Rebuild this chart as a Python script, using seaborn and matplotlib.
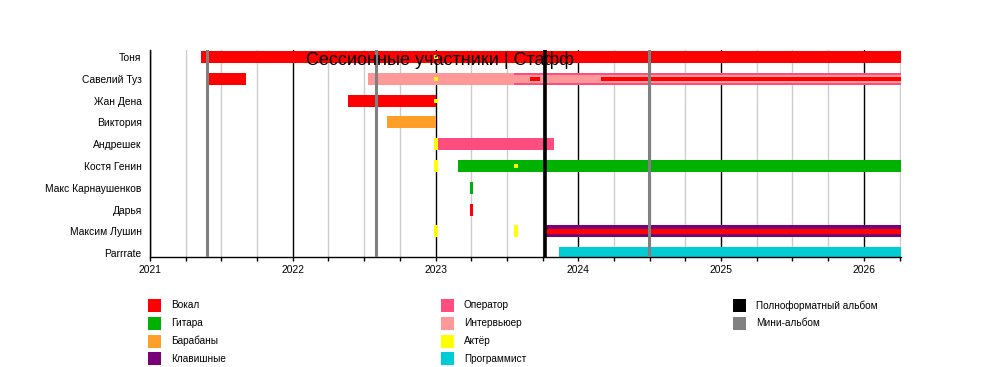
import matplotlib
matplotlib.use("Agg")
import matplotlib.pyplot as plt
from matplotlib.patches import Rectangle
import seaborn as sns
import numpy as np

# ---------------- data ----------------
title = "Сессионные участники | Стафф"
members = ["Тоня", "Савелий Туз", "Жан Дена", "Виктория", "Андрешек",
           "Костя Генин", "Макс Карнаушенков", "Дарья", "Максим Лушин", "Parrrate"]

roles = ["Вокал", "Гитара", "Барабаны", "Клавишные",
         "Оператор", "Интервьюер", "Актёр", "Программист"]
role_colors = ["#FF0000", "#00B200", "#FF9F28", "#7A0078",
               "#FF4D80", "#FF9999", "#FFFF00", "#00CCD4"]

END = 2026.26
years = [2021, 2022, 2023, 2024, 2025, 2026]

# full-height bars
main_member = ["Тоня", "Савелий Туз", "Савелий Туз", "Савелий Туз", "Жан Дена",
               "Виктория", "Андрешек", "Андрешек", "Костя Генин", "Костя Генин",
               "Макс Карнаушенков", "Дарья", "Максим Лушин", "Максим Лушин",
               "Максим Лушин", "Parrrate"]
main_role = ["Вокал", "Вокал", "Интервьюер", "Оператор", "Вокал",
             "Барабаны", "Актёр", "Оператор", "Актёр", "Гитара",
             "Гитара", "Вокал", "Актёр", "Актёр",
             "Клавишные", "Программист"]
main_start = [2021.36, 2021.414, 2022.528, 2023.552, 2022.388,
              2022.661, 2022.99, 2023.015, 2022.99, 2023.16,
              2023.243, 2023.243, 2022.99, 2023.55,
              2023.776, 2023.867]
main_end = [END, 2021.673, 2023.552, END, 2023.0,
            2023.0, 2023.02, 2023.83, 2023.02, END,
            2023.264, 2023.264, 2023.02, 2023.58,
            END, END]

# medium inner bars
mid_member = ["Савелий Туз"]
mid_role = ["Интервьюер"]
mid_start = [2023.552]
mid_end = [END]

# thin inner bars
thin_member = ["Савелий Туз", "Савелий Туз", "Максим Лушин"]
thin_role = ["Вокал", "Вокал", "Вокал"]
thin_start = [2023.664, 2024.161, 2023.776]
thin_end = [2023.734, END, END]

# small markers (actor)
dot_member = ["Тоня", "Савелий Туз", "Жан Дена", "Костя Генин"]
dot_role = ["Актёр", "Актёр", "Актёр", "Актёр"]
dot_start = [2022.99, 2022.99, 2022.99, 2023.55]
dot_end = [2023.02, 2023.02, 2023.02, 2023.58]

album_types = ["Полноформатный альбом", "Мини-альбом"]
album_colors = ["#000000", "#808080"]
album_type = ["Мини-альбом", "Мини-альбом", "Полноформатный альбом", "Мини-альбом"]
album_date = [2021.396, 2022.581, 2023.765, 2024.496]

# ---------------- style ----------------
sns.set_theme(style="white")
plt.rcParams['font.family'] = ['Liberation Sans', 'DejaVu Sans']

W, H = 1000, 367
fig = plt.figure(figsize=(W / 100, H / 100), dpi=100)
ax = fig.add_axes([150 / W, 1 - 257 / H, 751 / W, 207 / H])

color_of = dict(zip(roles, role_colors))
row_of = {m: i for i, m in enumerate(members)}


def draw(mem, rol, st, en, h, z):
    ax.barh([row_of[m] for m in mem],
            np.array(en) - np.array(st), left=st, height=h,
            color=[color_of[r] for r in rol], linewidth=0, zorder=z)


draw(main_member, main_role, main_start, main_end, 0.55, 2)
draw(mid_member, mid_role, mid_start, mid_end, 0.34, 3)
draw(thin_member, thin_role, thin_start, thin_end, 0.2, 3.5)
draw(dot_member, dot_role, dot_start, dot_end, 0.18, 3.6)

album_color_of = dict(zip(album_types, album_colors))
album_lw = {"Полноформатный альбом": 2.6, "Мини-альбом": 2.2}
for t, d in zip(album_type, album_date):
    ax.axvline(d, color=album_color_of[t], lw=album_lw[t], zorder=5)

ax.set_xticks(years)
ax.set_xticklabels([str(y) for y in years])
quarters = [y + q / 4 for y in range(2021, 2027) for q in range(1, 4)]
quarters = [q for q in quarters if q <= END]
ax.set_xticks(quarters, minor=True)
ax.set_yticks(range(len(members)))
ax.set_yticklabels(members)
ax.set_xlim(2021, END)
ax.set_ylim(9.17, -0.32)

ax.grid(which='major', axis='x', color='black', lw=1.0)
ax.grid(which='minor', axis='x', color='#CCCCCC', lw=1.0)
ax.grid(which='major', axis='y', visible=False)
ax.set_axisbelow(True)

for s in ["top", "right"]:
    ax.spines[s].set_visible(False)
for s in ["left", "bottom"]:
    ax.spines[s].set_color("black")
    ax.spines[s].set_linewidth(1.0)

ax.tick_params(axis='x', which='both', direction='out', length=3, width=1,
               color='black', labelsize=7.4, pad=3, bottom=True)
ax.tick_params(axis='y', length=0, labelsize=7.4, pad=6)
for lab in ax.get_xticklabels() + ax.get_yticklabels():
    lab.set_color("black")

fig.text(439.5 / W, 1 - 60 / H, title, ha='center', va='center',
         fontsize=13, color='black', zorder=10)

# ---------------- legend ----------------
col_x = [148, 441, 733]
row_y = [299, 317, 334.5, 352]
columns = [roles[:4], roles[4:], album_types]
col_colors = [role_colors[:4], role_colors[4:], album_colors]
sq = 13
for cx, labs, cols in zip(col_x, columns, col_colors):
    for ry, lab, c in zip(row_y, labs, cols):
        fig.add_artist(Rectangle((cx / W, 1 - (ry + sq) / H), sq / W, sq / H,
                                 transform=fig.transFigure, color=c, lw=0))
        fig.text((cx + 23) / W, 1 - (ry + sq / 2) / H, lab, ha='left',
                 va='center', fontsize=7.2, color='black')

fig.savefig("out.png", dpi=100)
